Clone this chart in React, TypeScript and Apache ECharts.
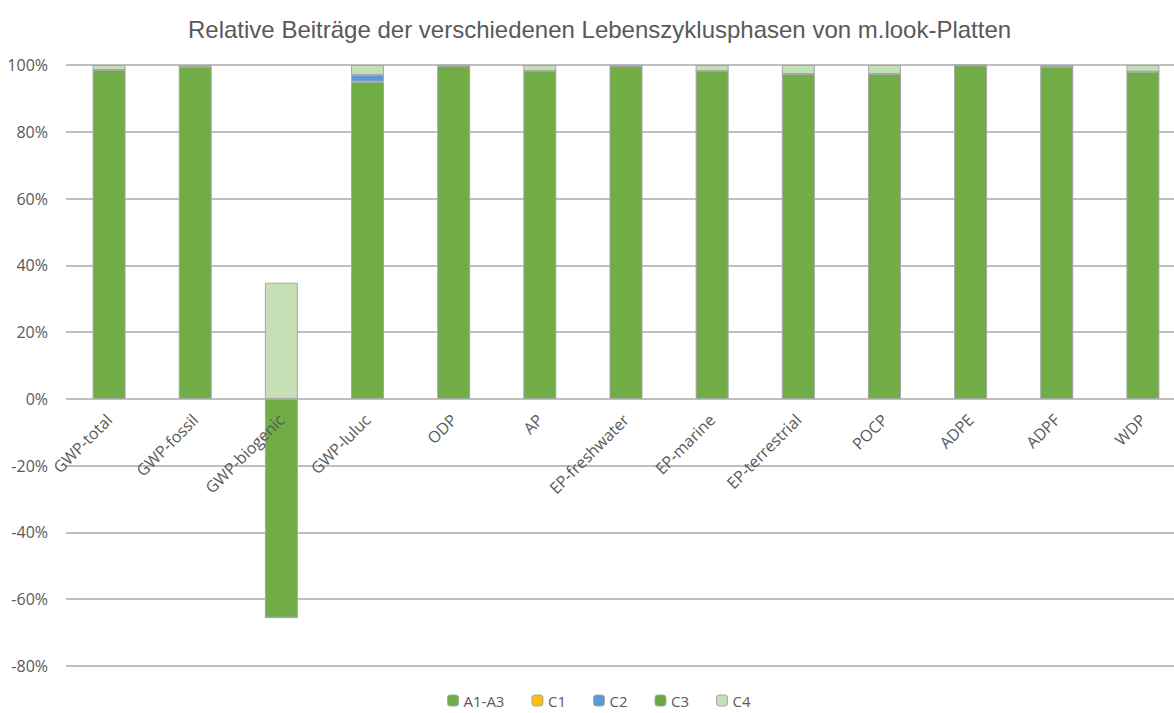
import React, { useEffect, useRef } from "react";
import * as echarts from "echarts";

const categories = [
  "GWP-total", "GWP-fossil", "GWP-biogenic", "GWP-luluc", "ODP", "AP",
  "EP-freshwater", "EP-marine", "EP-terrestrial", "POCP", "ADPE", "ADPF", "WDP",
];
const a1a3 = [98.5, 99.5, -65.5, 95, 99.8, 98.2, 99.7, 98.2, 97.3, 97.3, 99.9, 99.4, 98];
const c1 = [0, 0, 0, 0, 0, 0, 0, 0, 0, 0, 0, 0, 0];
const c2 = [0, 0, 0, 2, 0, 0, 0, 0, 0, 0, 0, 0, 0];
const c3 = [0, 0, 0, 0, 0, 0, 0, 0, 0, 0, 0, 0, 0];
const c4 = [1.5, 0.5, 34.8, 3, 0.2, 1.8, 0.3, 1.8, 2.7, 2.7, 0.1, 0.6, 2];
const seriesNames = ["A1-A3", "C1", "C2", "C3", "C4"];
const seriesColors = ["#70ad47", "#ffc000", "#5b9bd5", "#6aa645", "#c5e0b4"];

const Y_MIN = -80;
const Y_MAX = 100;
const GRID_TOP = 65;
const GRID_BOTTOM = 47;
const HEIGHT = 713;

export default function App() {
  const ref = useRef<HTMLDivElement>(null);
  useEffect(() => {
    if (!ref.current) return;
    const chart = echarts.init(ref.current, undefined, { renderer: "svg" });
    const data = [a1a3, c1, c2, c3, c4];
    const plotH = HEIGHT - GRID_TOP - GRID_BOTTOM;
    const zeroOffset = -Math.round((plotH * (0 - Y_MIN)) / (Y_MAX - Y_MIN));
    chart.setOption({
      animation: false,
      title: {
        text: "Relative Beiträge der verschiedenen Lebenszyklusphasen von m.look-Platten",
        left: 183,
        top: 12,
        textStyle: { fontFamily: "Liberation Sans", fontSize: 24, fontWeight: "normal", color: "#595959" },
      },
      legend: {
        bottom: 0,
        left: 442,
        itemWidth: 11,
        itemHeight: 11,
        itemGap: 27,
        data: seriesNames.map((n) => ({ name: n, itemStyle: { borderColor: "#a6a6a6", borderWidth: 1 } })),
        textStyle: { fontFamily: "Open Sans", fontSize: 15, color: "#595959" },
      },
      grid: { left: 66, right: -12, top: GRID_TOP, bottom: GRID_BOTTOM, containLabel: false, outerBoundsMode: "none" },
      xAxis: {
        type: "category",
        data: categories,
        offset: zeroOffset + 10,
        z: 5,
        axisTick: { show: false },
        axisLine: { show: false, onZero: false },
        axisLabel: {
          rotate: 45,
          interval: 0,
          margin: 8,
          fontFamily: "Open Sans",
          fontSize: 16,
          color: "#595959",
        },
      },
      yAxis: {
        type: "value",
        min: Y_MIN,
        max: Y_MAX,
        interval: 20,
        axisLabel: {
          formatter: "{value}%",
          fontFamily: "Open Sans",
          fontSize: 16,
          color: "#595959",
          margin: 18,
        },
        splitLine: { lineStyle: { color: "#bfbfbf", width: 2 } },
      },
      series: seriesNames.map((name, i) => ({
        name,
        type: "bar",
        stack: "total",
        barWidth: 33,
        data: data[i],
        itemStyle: { color: seriesColors[i], borderColor: "#a6a6a6", borderWidth: data[i].some((v) => v !== 0) ? 1 : 0 },
      })),
    });
    return () => chart.dispose();
  }, []);
  return <div ref={ref} style={{ width: 1174, height: HEIGHT, position: "absolute", left: 0, top: 0 }} />;
}
